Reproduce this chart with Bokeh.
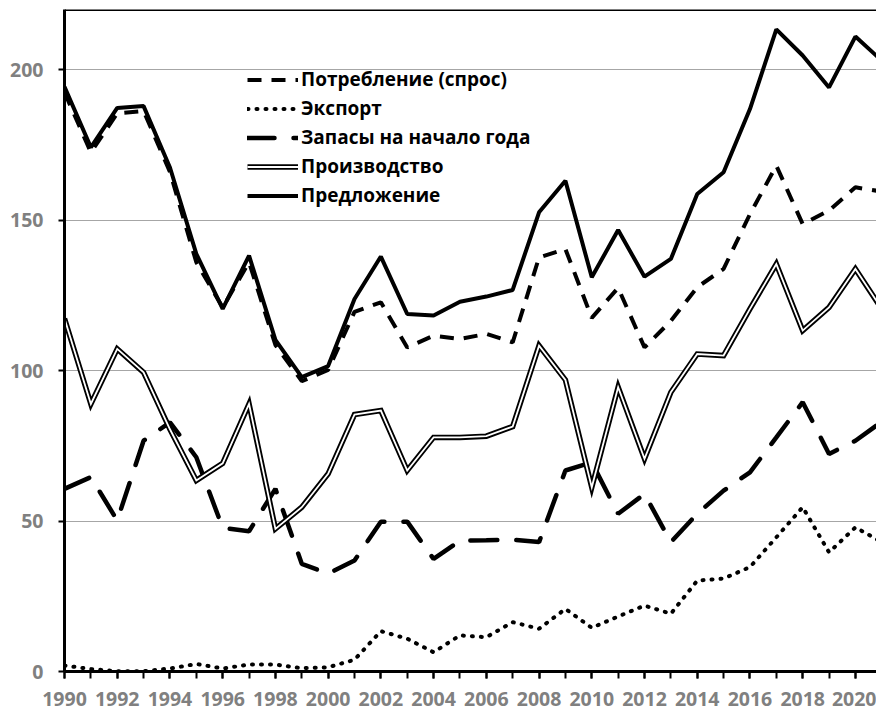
from bokeh.plotting import figure
from bokeh.models import FixedTicker, Span, Legend, LegendItem, Range1d
from bokeh.embed import file_html
from bokeh.resources import INLINE

years = list(range(1990, 2022))
consumption = [192.5, 172.5, 185.5, 186.3, 166.0, 136.0, 121.0, 136.0, 108.5, 96.5, 100.2,
               119.5, 122.7, 107.7, 111.6, 110.5, 112.2, 109.4, 137.6, 140.4, 117.5,
               127.5, 107.7, 116.5, 127.7, 133.8, 152.0, 168.1, 148.7, 153.2, 160.9, 159.5]
export = [2.0, 0.8, 0.1, 0.1, 1.0, 2.5, 1.0, 2.3, 2.3, 1.1, 1.4,
          3.9, 13.4, 10.9, 6.4, 12.0, 11.4, 16.4, 14.2, 20.8, 14.5,
          18.3, 21.9, 19.2, 30.2, 30.9, 34.7, 44.6, 54.6, 39.6, 47.9, 43.0]
stocks = [60.7, 64.6, 50.2, 76.7, 82.8, 71.2, 47.7, 46.6, 60.7, 35.8, 32.5,
          36.9, 49.8, 49.8, 37.4, 43.5, 43.6, 43.8, 43.0, 66.8, 69.5,
          52.4, 59.0, 43.0, 52.4, 60.1, 66.2, 77.8, 89.5, 72.3, 76.7, 83.0]
production = [117.3, 88.9, 107.2, 99.4, 80.5, 63.5, 69.2, 88.9, 47.4, 54.6, 65.7,
              85.4, 86.7, 66.8, 77.8, 77.8, 78.2, 81.4, 108.3, 96.9, 61.2,
              94.5, 70.7, 92.8, 105.5, 105.0, 120.5, 135.4, 113.3, 121.0, 133.8, 120.5]
supply = [194.3, 174.2, 187.3, 187.9, 167.5, 138.8, 120.5, 138.2, 110.2, 97.8, 101.5,
          123.8, 137.9, 118.8, 118.3, 122.9, 124.6, 126.8, 152.6, 163.1, 131.0,
          146.7, 131.2, 137.1, 158.7, 165.9, 186.9, 213.4, 204.7, 194.1, 211.0, 203.0]

labels = ["Потребление (спрос)", "Экспорт", "Запасы на начало года", "Производство", "Предложение"]
x_labelled = list(range(1990, 2021, 2))
y_ticks = [0, 50, 100, 150, 200]

FONT = "Open Sans"

p = figure(width=876, height=711, output_backend="svg", toolbar_location=None,
           x_range=Range1d(1990, 2020.8), y_range=Range1d(0, 220),
           min_border_left=64, min_border_right=0, min_border_top=9, min_border_bottom=40)
p.outline_line_color = None
p.background_fill_color = "white"
p.border_fill_color = "white"

r_cons = p.line(years, consumption, line_color="black", line_width=4, line_dash="14 10")
r_exp = p.line(years, export, line_color="black", line_width=4, line_dash="1 8", line_cap="round")
r_stk = p.line(years, stocks, line_color="black", line_width=4.5, line_dash="27 19", line_cap="round")
r_prod_o = p.line(years, production, line_color="black", line_width=5.5, line_join="miter")
r_prod_i = p.line(years, production, line_color="white", line_width=1.8, line_join="miter")
r_sup = p.line(years, supply, line_color="black", line_width=4)

top = Span(location=220, dimension="width", line_color="black", line_width=3)
p.add_layout(top)

# axes
p.xaxis.ticker = FixedTicker(ticks=x_labelled, minor_ticks=years)
p.yaxis.ticker = FixedTicker(ticks=y_ticks, minor_ticks=[])
for ax in (p.xaxis[0], p.yaxis[0]):
    ax.axis_line_color = "black"
    ax.axis_line_width = 3
    ax.major_tick_line_color = "black"
    ax.major_tick_line_width = 2
    ax.major_tick_in = 0
    ax.minor_tick_in = 0
    ax.major_label_text_font = FONT
    ax.major_label_text_font_style = "bold"
    ax.major_label_text_font_size = "19.5px"
    ax.major_label_text_color = "#808080"
p.xaxis.major_tick_out = 7
p.xaxis.minor_tick_out = 7
p.xaxis.minor_tick_line_color = "black"
p.xaxis.minor_tick_line_width = 2
p.xaxis.major_label_standoff = 13
p.yaxis.major_tick_out = 6
p.yaxis.minor_tick_line_color = None
p.yaxis.major_label_standoff = 15

p.xgrid.grid_line_color = None
p.ygrid.ticker = FixedTicker(ticks=[50, 100, 150, 200])
p.ygrid.grid_line_color = "#a6a6a6"
p.ygrid.grid_line_width = 1

legend = Legend(items=[
    LegendItem(label=labels[0], renderers=[r_cons]),
    LegendItem(label=labels[1], renderers=[r_exp]),
    LegendItem(label=labels[2], renderers=[r_stk]),
    LegendItem(label=labels[3], renderers=[r_prod_o, r_prod_i]),
    LegendItem(label=labels[4], renderers=[r_sup]),
], location=(183, 463))
legend.padding = 0
legend.margin = 0
legend.spacing = 3
legend.glyph_width = 51
legend.glyph_height = 25
legend.label_height = 25
legend.label_standoff = 3
legend.label_text_font = FONT
legend.label_text_font_style = "bold"
legend.label_text_font_size = "19px"
legend.label_text_color = "black"
legend.border_line_color = None
legend.background_fill_alpha = 0
p.add_layout(legend)

open("out.html", "w").write(file_html(p, INLINE))
